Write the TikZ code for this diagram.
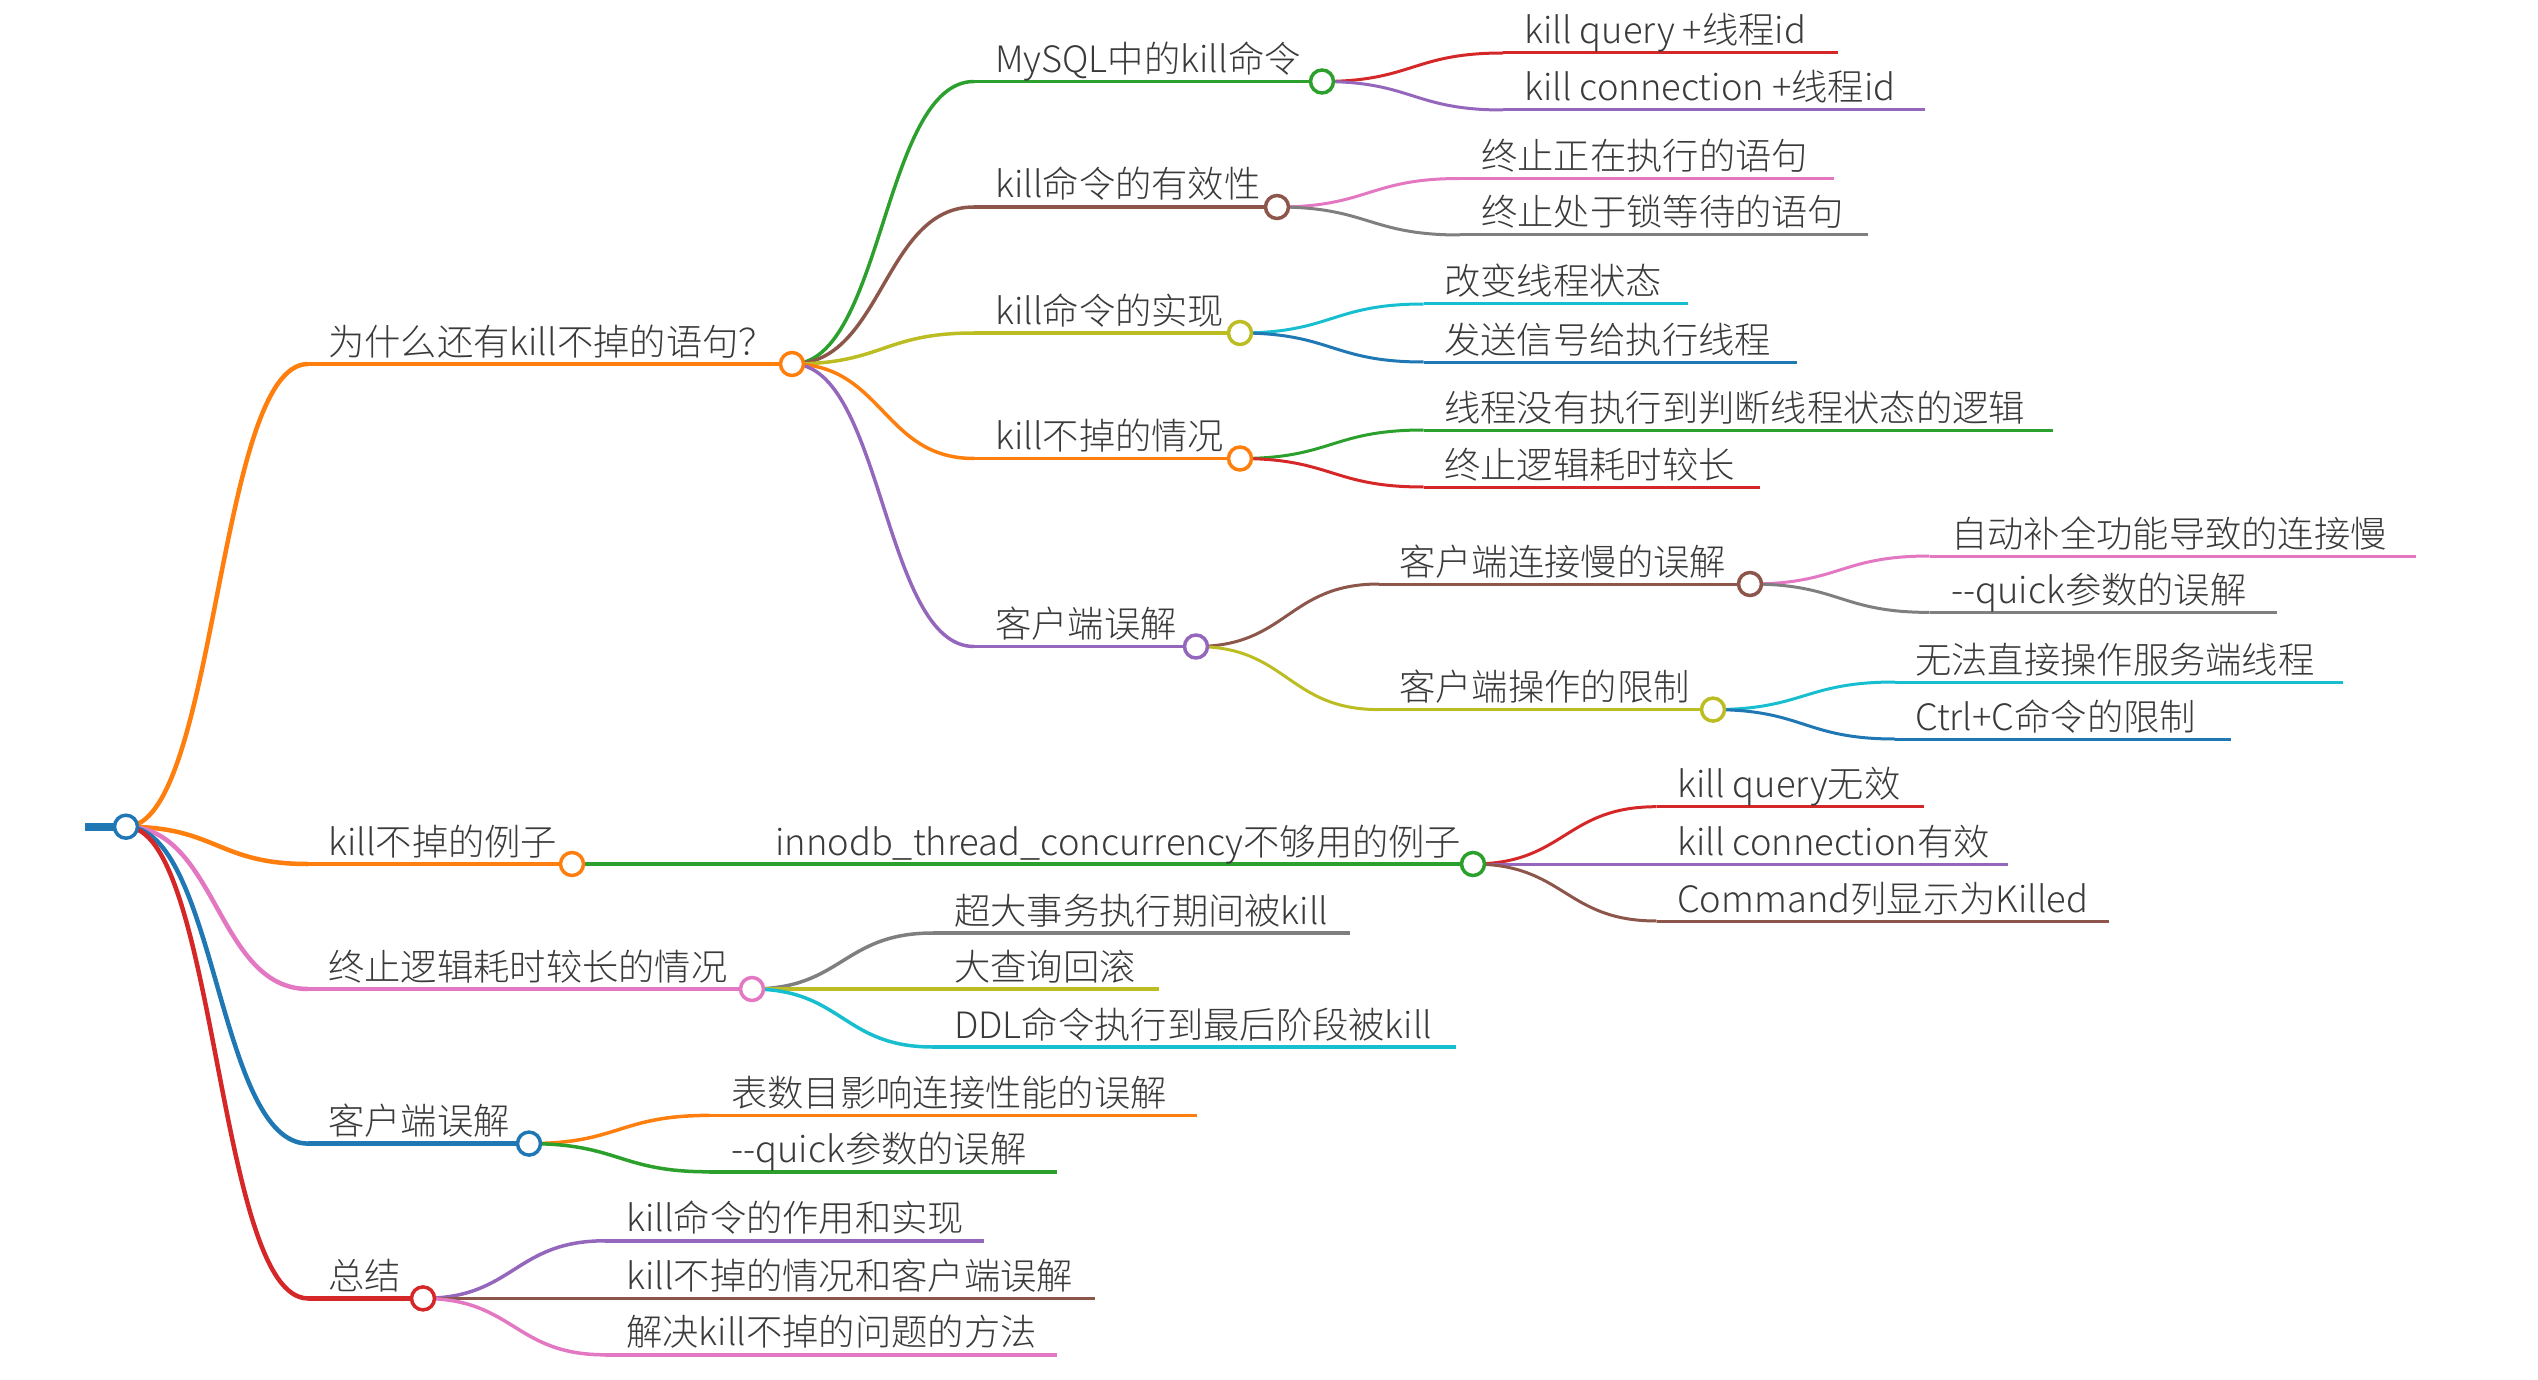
\documentclass[tikz,border=0pt]{standalone}
\usepackage{fontspec}
\IfFontExistsTF{Noto Sans CJK SC Light}{\setmainfont{Noto Sans CJK SC Light}}{\setmainfont{Noto Sans CJK SC}}
\usetikzlibrary{calc}
\pgfdeclarelayer{bg}
\pgfsetlayers{bg,main}
\definecolor{cblue}{HTML}{1F77B4}
\definecolor{corange}{HTML}{FF7F0E}
\definecolor{cgreen}{HTML}{2CA02C}
\definecolor{cred}{HTML}{D62728}
\definecolor{cpurple}{HTML}{9467BD}
\definecolor{cbrown}{HTML}{8C564B}
\definecolor{cpink}{HTML}{E377C2}
\definecolor{cgray}{HTML}{7F7F7F}
\definecolor{colive}{HTML}{BCBD22}
\definecolor{ccyan}{HTML}{17BECF}
\definecolor{txt}{HTML}{3A3A3A}
\newcommand\lnk[3]{% from, to, style
  \coordinate (mid) at ($(#1.center)!0.5!(#2.center)$);
  \draw[#3] (#1.center) .. controls (mid |- #1.center) and (mid |- #2.center) .. (#2.center);
}
\begin{document}
\begin{tikzpicture}[x=1pt,y=-1pt,
  knob/.style={circle, draw=#1, fill=white, line width=3.5pt, minimum size=23pt, inner sep=0pt},
  lbl/.style={anchor=base west, inner sep=0pt, text=txt, font=\fontsize{36.3}{40}\selectfont},
  wa/.style={line width=4.5pt},
  wb/.style={line width=3.5pt},
  wc/.style={line width=3pt}]
\useasboundingbox (0,0) rectangle (2538,1380);

% ---------- circles ----------
\node[knob=cblue] (r) at (126,826.7) {};
\coordinate (stub) at (85,826.7);

\node[knob=corange] (A) at (792,364) {};
\node[knob=corange] (B) at (572,864) {};
\node[knob=cpink] (C) at (752,989) {};
\node[knob=cblue] (D) at (529,1143.6) {};
\node[knob=cred] (E) at (423,1298.4) {};

\node[knob=cgreen] (A1) at (1322,81.5) {};
\node[knob=cbrown] (A2) at (1277,207) {};
\node[knob=colive] (A3) at (1240,333) {};
\node[knob=corange] (A4) at (1240,458.5) {};
\node[knob=cpurple] (A5) at (1196,646.5) {};
\node[knob=cbrown] (A5a) at (1750,584) {};
\node[knob=colive] (A5b) at (1713,709.6) {};
\node[knob=cgreen] (B1) at (1473,864) {};

% ---------- start points of underlines ----------
\coordinate (sA) at (308,364);
\coordinate (sB) at (308,864);
\coordinate (sC) at (308,989);
\coordinate (sD) at (308,1143.6);
\coordinate (sE) at (308,1298.4);

\coordinate (sA1) at (974,81.5);
\coordinate (sA2) at (974,207);
\coordinate (sA3) at (974,333);
\coordinate (sA4) at (974,458.5);
\coordinate (sA5) at (974,646.5);

\coordinate (sA1a) at (1503,53);    \coordinate (eA1a) at (1838,53);
\coordinate (sA1b) at (1503,110);   \coordinate (eA1b) at (1925,110);
\coordinate (sA2a) at (1460,178.5); \coordinate (eA2a) at (1834,178.5);
\coordinate (sA2b) at (1460,235);   \coordinate (eA2b) at (1868,235);
\coordinate (sA3a) at (1423.5,304); \coordinate (eA3a) at (1688,304);
\coordinate (sA3b) at (1423.5,362); \coordinate (eA3b) at (1797,362);
\coordinate (sA4a) at (1423.5,430); \coordinate (eA4a) at (2053,430);
\coordinate (sA4b) at (1423.5,487); \coordinate (eA4b) at (1760,487);
\coordinate (sA5a) at (1379,584);
\coordinate (sA5b) at (1379,709.6);
\coordinate (sA5a1) at (1929.5,556); \coordinate (eA5a1) at (2416,556);
\coordinate (sA5a2) at (1929.5,612.4); \coordinate (eA5a2) at (2277,612.4);
\coordinate (sA5b1) at (1895,682);  \coordinate (eA5b1) at (2343,682);
\coordinate (sA5b2) at (1895,739);  \coordinate (eA5b2) at (2231,739);

\coordinate (sB1) at (755,864);
\coordinate (sB1a) at (1656.5,806.7); \coordinate (eB1a) at (1923.5,806.7);
\coordinate (sB1b) at (1656.5,864);   \coordinate (eB1b) at (2008,864);
\coordinate (sB1c) at (1656.5,921);   \coordinate (eB1c) at (2108.7,921);

\coordinate (sC1) at (933,933);  \coordinate (eC1) at (1350,933);
\coordinate (sC2) at (933,989);  \coordinate (eC2) at (1159,989);
\coordinate (sC3) at (933,1047); \coordinate (eC3) at (1456,1047);

\coordinate (sD1) at (709,1115.4); \coordinate (eD1) at (1196.5,1115.4);
\coordinate (sD2) at (709,1171.8); \coordinate (eD2) at (1057,1171.8);

\coordinate (sE1) at (605,1240.8); \coordinate (eE1) at (984,1240.8);
\coordinate (sE2) at (605,1298.4); \coordinate (eE2) at (1094.5,1298.4);
\coordinate (sE3) at (605,1354.8); \coordinate (eE3) at (1057,1354.8);

% ---------- labels ----------
\node[lbl] (tA) at (328,355) {为什么还有kill不掉的语句？};
\node[lbl] (tB) at (328,855) {kill不掉的例子};
\node[lbl] (tC) at (328,980) {终止逻辑耗时较长的情况};
\node[lbl] (tD) at (328,1134.6) {客户端误解};
\node[lbl] (tE) at (328,1289.4) {总结};

\node[lbl] (tA1) at (995,72.5) {MySQL中的kill命令};
\node[lbl] (tA2) at (995,198) {kill命令的有效性};
\node[lbl] (tA3) at (995,324) {kill命令的实现};
\node[lbl] (tA4) at (995,449.5) {kill不掉的情况};
\node[lbl] (tA5) at (995,637.5) {客户端误解};

\node[lbl] (tA1a) at (1524,44) {kill query +线程id};
\node[lbl] (tA1b) at (1524,101) {kill connection +线程id};
\node[lbl] (tA2a) at (1481,169.5) {终止正在执行的语句};
\node[lbl] (tA2b) at (1481,226) {终止处于锁等待的语句};
\node[lbl] (tA3a) at (1444,295) {改变线程状态};
\node[lbl] (tA3b) at (1444,353) {发送信号给执行线程};
\node[lbl] (tA4a) at (1444,421) {线程没有执行到判断线程状态的逻辑};
\node[lbl] (tA4b) at (1444,478) {终止逻辑耗时较长};
\node[lbl] (tA5a) at (1399,575) {客户端连接慢的误解};
\node[lbl] (tA5b) at (1399,700.6) {客户端操作的限制};
\node[lbl] (tA5a1) at (1951,547) {自动补全功能导致的连接慢};
\node[lbl] (tA5a2) at (1951,603.4) {-{}-quick参数的误解};
\node[lbl] (tA5b1) at (1915,673) {无法直接操作服务端线程};
\node[lbl] (tA5b2) at (1915,730) {Ctrl+C命令的限制};

\node[lbl] (tB1) at (775,855) {innodb\_thread\_concurrency不够用的例子};
\node[lbl] (tB1a) at (1677,797.7) {kill query无效};
\node[lbl] (tB1b) at (1677,855) {kill connection有效};
\node[lbl] (tB1c) at (1677,912) {Command列显示为Killed};

\node[lbl] (tC1) at (954,924) {超大事务执行期间被kill};
\node[lbl] (tC2) at (954,980) {大查询回滚};
\node[lbl] (tC3) at (954,1038) {DDL命令执行到最后阶段被kill};

\node[lbl] (tD1) at (731,1106.4) {表数目影响连接性能的误解};
\node[lbl] (tD2) at (731,1162.8) {-{}-quick参数的误解};

\node[lbl] (tE1) at (626,1231.8) {kill命令的作用和实现};
\node[lbl] (tE2) at (626,1289.4) {kill不掉的情况和客户端误解};
\node[lbl] (tE3) at (626,1345.8) {解决kill不掉的问题的方法};

% ---------- connectors ----------
\begin{pgfonlayer}{bg}
\draw[cblue, line width=8pt] (stub) -- (r.center);

\lnk{r}{sA}{corange,wa} \draw[corange,wa] (sA) -- (A.center);
\lnk{r}{sB}{corange,wa} \draw[corange,wa] (sB) -- (B.center);
\lnk{r}{sC}{cpink,wa}   \draw[cpink,wa] (sC) -- (C.center);
\lnk{r}{sD}{cblue,wa}   \draw[cblue,wa] (sD) -- (D.center);
\lnk{r}{sE}{cred,wa}    \draw[cred,wa] (sE) -- (E.center);

\lnk{A}{sA1}{cgreen,wb}  \draw[cgreen,wb] (sA1) -- (A1.center);
\lnk{A}{sA2}{cbrown,wb}  \draw[cbrown,wb] (sA2) -- (A2.center);
\lnk{A}{sA3}{colive,wb}  \draw[colive,wb] (sA3) -- (A3.center);
\lnk{A}{sA4}{corange,wb} \draw[corange,wb] (sA4) -- (A4.center);
\lnk{A}{sA5}{cpurple,wb} \draw[cpurple,wb] (sA5) -- (A5.center);

\lnk{A1}{sA1a}{cred,wc}    \draw[cred,wc] (sA1a) -- (eA1a);
\lnk{A1}{sA1b}{cpurple,wc} \draw[cpurple,wc] (sA1b) -- (eA1b);
\lnk{A2}{sA2a}{cpink,wc}   \draw[cpink,wc] (sA2a) -- (eA2a);
\lnk{A2}{sA2b}{cgray,wc}   \draw[cgray,wc] (sA2b) -- (eA2b);
\lnk{A3}{sA3a}{ccyan,wc}   \draw[ccyan,wc] (sA3a) -- (eA3a);
\lnk{A3}{sA3b}{cblue,wc}   \draw[cblue,wc] (sA3b) -- (eA3b);
\lnk{A4}{sA4a}{cgreen,wc}  \draw[cgreen,wc] (sA4a) -- (eA4a);
\lnk{A4}{sA4b}{cred,wc}    \draw[cred,wc] (sA4b) -- (eA4b);
\lnk{A5}{sA5a}{cbrown,wc}  \draw[cbrown,wc] (sA5a) -- (A5a.center);
\lnk{A5}{sA5b}{colive,wc}  \draw[colive,wc] (sA5b) -- (A5b.center);
\lnk{A5a}{sA5a1}{cpink,wc} \draw[cpink,wc] (sA5a1) -- (eA5a1);
\lnk{A5a}{sA5a2}{cgray,wc} \draw[cgray,wc] (sA5a2) -- (eA5a2);
\lnk{A5b}{sA5b1}{ccyan,wc} \draw[ccyan,wc] (sA5b1) -- (eA5b1);
\lnk{A5b}{sA5b2}{cblue,wc} \draw[cblue,wc] (sA5b2) -- (eA5b2);

\draw[cgreen,wb] (B.center) -- (B1.center);
\lnk{B1}{sB1a}{cred,wc}    \draw[cred,wc] (sB1a) -- (eB1a);
\lnk{B1}{sB1b}{cpurple,wc} \draw[cpurple,wc] (sB1b) -- (eB1b);
\lnk{B1}{sB1c}{cbrown,wc}  \draw[cbrown,wc] (sB1c) -- (eB1c);

\lnk{C}{sC1}{cgray,wb}  \draw[cgray,wb] (sC1) -- (eC1);
\lnk{C}{sC2}{colive,wb} \draw[colive,wb] (sC2) -- (eC2);
\lnk{C}{sC3}{ccyan,wb}  \draw[ccyan,wb] (sC3) -- (eC3);

\lnk{D}{sD1}{corange,wb} \draw[corange,wb] (sD1) -- (eD1);
\lnk{D}{sD2}{cgreen,wb}  \draw[cgreen,wb] (sD2) -- (eD2);

\lnk{E}{sE1}{cpurple,wb} \draw[cpurple,wb] (sE1) -- (eE1);
\lnk{E}{sE2}{cbrown,wb}  \draw[cbrown,wb] (sE2) -- (eE2);
\lnk{E}{sE3}{cpink,wb}   \draw[cpink,wb] (sE3) -- (eE3);
\end{pgfonlayer}
\end{tikzpicture}
\end{document}
